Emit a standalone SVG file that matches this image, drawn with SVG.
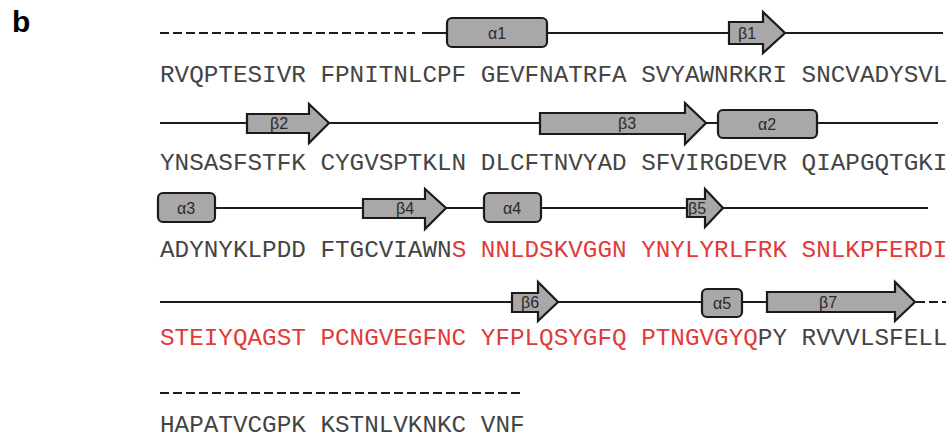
<svg xmlns="http://www.w3.org/2000/svg" width="948" height="439" viewBox="0 0 948 439">
<style>
.seq{font-family:"Liberation Mono","DejaVu Sans Mono",monospace;font-size:24.3px;fill:#444}
.red{fill:#e03a3a}
.bb{stroke:#1c1c1c;stroke-width:2;fill:none}
.dash{stroke-dasharray:9 4}
.helix{fill:#a9a7a7;stroke:#1a1a1a;stroke-width:2.2}
.strand{fill:#a9a7a7;stroke:#1a1a1a;stroke-width:2.2;stroke-linejoin:miter}
.lbl{font-family:"Liberation Sans",Arial,sans-serif;font-size:16px;fill:#2a2a2a;text-anchor:middle}
.panel{font-family:"Liberation Sans",Arial,sans-serif;font-size:30px;font-weight:bold;fill:#000}
</style>
<rect width="948" height="439" fill="#fff"/>
<text class="panel" x="12" y="32">b</text>

<g id="connectors">
  <line class="bb dash" x1="160" y1="33" x2="415" y2="33"/>
  <line class="bb" x1="422" y1="33" x2="943" y2="33"/>
  <line class="bb" x1="160" y1="123" x2="938" y2="123"/>
  <line class="bb" x1="215" y1="208" x2="928" y2="208"/>
  <line class="bb" x1="160" y1="302" x2="915" y2="302"/>
  <line class="bb dash" x1="916" y1="302" x2="946" y2="302"/>
  <line class="bb dash" x1="160" y1="393" x2="522" y2="393"/>
</g>

<g id="alpha1"><rect class="helix" x="447" y="18" width="100" height="29" rx="5"/><text class="lbl" x="497" y="38.5">α1</text></g>
<g id="beta1"><polygon class="strand" points="729,22 763,22 763,12 785,33 763,53 763,44 729,44"/><text class="lbl" x="747" y="38.5">β1</text></g>

<g id="beta2"><polygon class="strand" points="247,114 309,114 309,104 329,123 309,143 309,133 247,133"/><text class="lbl" x="279" y="128.5">β2</text></g>
<g id="beta3"><polygon class="strand" points="540,113 685,113 685,103 706,123 685,144 685,134 540,134"/><text class="lbl" x="627" y="128.5">β3</text></g>
<g id="alpha2"><rect class="helix" x="718" y="110" width="99" height="28" rx="5"/><text class="lbl" x="767" y="129.5">α2</text></g>

<g id="alpha3"><rect class="helix" x="158" y="193" width="57" height="29" rx="5"/><text class="lbl" x="186" y="213.5">α3</text></g>
<g id="beta4"><polygon class="strand" points="363,199 425,199 425,189 446,208 425,229 425,218 363,218"/><text class="lbl" x="405" y="213.5">β4</text></g>
<g id="alpha4"><rect class="helix" x="484" y="193" width="57" height="29" rx="5"/><text class="lbl" x="512" y="213.5">α4</text></g>
<g id="beta5"><polygon class="strand" points="687,199 705,199 705,189 723,208 705,227 705,217 687,217"/><text class="lbl" x="697" y="213.5">β5</text></g>

<g id="beta6"><polygon class="strand" points="512,293 538,293 538,282 558,302 538,321 538,312 512,312"/><text class="lbl" x="530" y="307.5">β6</text></g>
<g id="alpha5"><rect class="helix" x="702" y="289" width="40" height="28" rx="5"/><text class="lbl" x="722" y="308.5">α5</text></g>
<g id="beta7"><polygon class="strand" points="767,292 895,292 895,282 915,302 895,321 895,312 767,312"/><text class="lbl" x="828" y="307.5">β7</text></g>

<g id="sequence">
  <text class="seq" y="82"><tspan x="160">RVQPTESIVR</tspan><tspan x="320.4">FPNITNLCPF</tspan><tspan x="480.8">GEVFNATRFA</tspan><tspan x="641.2">SVYAWNRKRI</tspan><tspan x="801.6">SNCVADYSVL</tspan></text>
  <text class="seq" y="170"><tspan x="160">YNSASFSTFK</tspan><tspan x="320.4">CYGVSPTKLN</tspan><tspan x="480.8">DLCFTNVYAD</tspan><tspan x="641.2">SFVIRGDEVR</tspan><tspan x="801.6">QIAPGQTGKI</tspan></text>
  <text class="seq" y="257"><tspan x="160">ADYNYKLPDD</tspan><tspan x="320.4">FTGCVIAWN</tspan><tspan class="red">S</tspan><tspan class="red" x="480.8">NNLDSKVGGN</tspan><tspan class="red" x="641.2">YNYLYRLFRK</tspan><tspan class="red" x="801.6">SNLKPFERDI</tspan></text>
  <text class="seq" y="345"><tspan class="red" x="160">STEIYQAGST</tspan><tspan class="red" x="320.4">PCNGVEGFNC</tspan><tspan class="red" x="480.8">YFPLQSYGFQ</tspan><tspan class="red" x="641.2">PTNGVGYQ</tspan><tspan>PY</tspan><tspan x="801.6">RVVVLSFELL</tspan></text>
  <text class="seq" y="432"><tspan x="160">HAPATVCGPK</tspan><tspan x="320.4">KSTNLVKNKC</tspan><tspan x="480.8">VNF</tspan></text>
</g>
</svg>
